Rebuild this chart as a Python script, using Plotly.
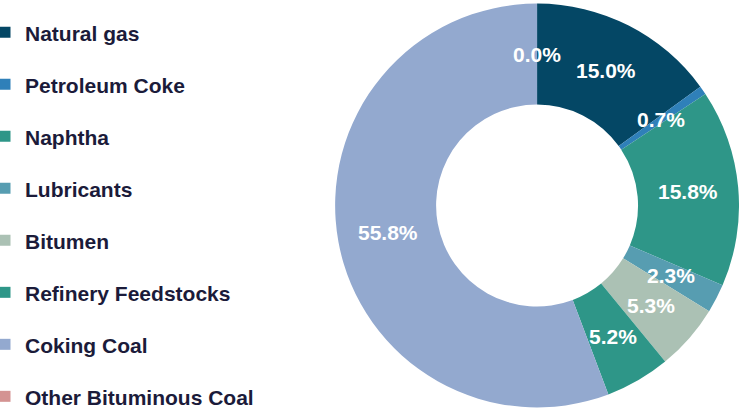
import math
import plotly.graph_objects as go

categories = ["Natural gas", "Petroleum Coke", "Naphtha", "Lubricants", "Bitumen",
              "Refinery Feedstocks", "Coking Coal", "Other Bituminous Coal"]
shares = [15.0, 0.7, 15.8, 2.3, 5.3, 5.2, 55.8, 0.0]
colors = ["#044765", "#2F80B9", "#2E9688", "#579DB1", "#ABC1B4",
          "#2E9688", "#93A9CF", "#D49392"]

W, H = 739, 409
M = dict(l=0, r=0, t=2, b=0, autoexpand=False)
DOM_X = [0.4535, 1.0]
HOLE = 0.5
FONT = "Liberation Sans, Arial"

fig = go.Figure()
fig.add_trace(go.Pie(
    labels=categories, values=shares, sort=False, direction="clockwise", rotation=0,
    hole=HOLE, marker=dict(colors=colors, line=dict(width=0)),
    textinfo="none", domain=dict(x=DOM_X, y=[0, 1]), showlegend=False,
))
for lab, col in zip(categories, colors):
    fig.add_trace(go.Scatter(x=[None], y=[None], mode="markers", name=lab, legendgroup=lab,
                             marker=dict(symbol="square", size=11, color=col), showlegend=True))

# percentage labels on the bisector of each slice, at mid ring radius
pw, ph = W - M["l"] - M["r"], H - M["t"] - M["b"]
r_px = min(pw * (DOM_X[1] - DOM_X[0]), ph) / 2
rm = r_px * (1 + HOLE) / 2
cx = (DOM_X[0] + DOM_X[1]) / 2
total = sum(shares)
cum = 0.0
for v in shares:
    ang = 2 * math.pi * (cum + v / 2) / total
    fig.add_annotation(x=cx + rm * math.sin(ang) / pw, y=0.5 + rm * math.cos(ang) / ph,
                       xref="paper", yref="paper", xanchor="center", yanchor="middle",
                       text=f"{v:.1f}%", showarrow=False,
                       font=dict(family=FONT, size=21, color="white", weight="bold"))
    cum += v

fig.update_layout(
    width=W, height=H, margin=M,
    paper_bgcolor="white", plot_bgcolor="white",
    xaxis=dict(visible=False, domain=[0, 0.3]), yaxis=dict(visible=False),
    legend=dict(x=0.0, y=0.975, xanchor="left", yanchor="top", traceorder="grouped",
                tracegroupgap=21.7, itemwidth=30, indentation=-15,
                font=dict(family=FONT, size=21, color="#1B1B3A", weight="bold")),
)
fig.write_html("out.html", config={"displayModeBar": False},
               post_script="document.body.style.margin='0px';")
